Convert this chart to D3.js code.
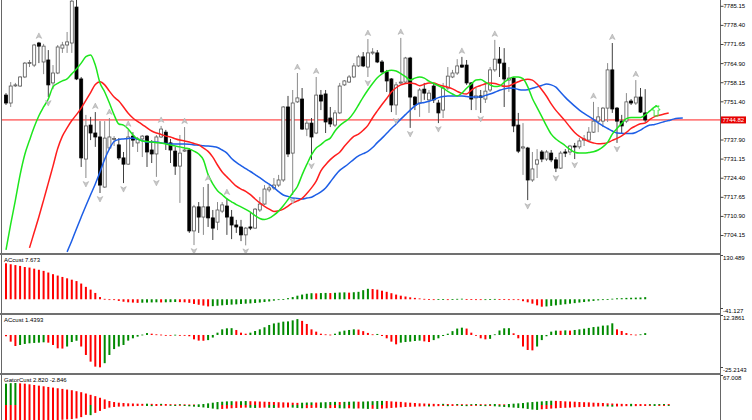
<!DOCTYPE html>
<meta charset="utf-8">
<head>
  <title>Alligator chart</title>
  <script src="https://cdn.jsdelivr.net/npm/d3@7/dist/d3.min.js"></script>
  <style>
    body { margin: 0; background: #fff; }
    svg { display: block; font-family: "Liberation Sans", Arial, sans-serif; }
  </style>
</head>
<body>
<svg width="752" height="420"></svg>
<script>

  // candles, one per bar
  var opens = [7753.6,7750.8,7757.0,7756.8,7760.0,7764.9,7764.2,7772.0,7765.3,7766.0,
    7757.9,7761.4,7770.2,7771.3,7772.0,7784.7,7759.3,7731.0,7743.0,7740.2,
    7738.8,7721.1,7734.9,7737.9,7736.0,7731.4,7729.2,7739.1,7736.7,7738.1,
    7739.1,7734.2,7732.8,7738.8,7740.5,7736.7,7733.8,7728.5,7733.8,7734.2,
    7705.6,7714.1,7710.5,7714.1,7710.2,7708.7,7712.6,7714.4,7710.5,7707.7,
    7707.0,7704.2,7707.0,7706.6,7713.0,7715.1,7720.1,7720.8,7721.8,7723.6,
    7749.4,7733.1,7751.2,7752.2,7741.6,7743.7,7740.2,7753.6,7754.0,7745.5,
    7743.0,7747.3,7757.2,7758.2,7760.0,7763.9,7767.1,7763.5,7768.5,7768.5,
    7765.3,7761.8,7759.3,7750.1,7757.9,7758.2,7766.7,7752.9,7750.8,7755.7,
    7751.9,7756.8,7750.8,7748.3,7756.1,7760.0,7761.4,7764.2,7764.2,7757.9,
    7752.6,7753.3,7752.2,7755.4,7762.5,7766.3,7764.9,7758.9,7759.6,7743.0,
    7734.9,7734.9,7723.6,7729.2,7733.5,7731.0,7733.1,7730.7,7727.8,7733.5,
    7733.5,7735.6,7735.3,7737.7,7737.7,7740.5,7744.4,7744.4,7749.0,7762.5,
    7749.0,7744.4,7744.4,7751.5,7750.8,7752.9,7747.3];
  var highs = [7754.3,7758.2,7757.9,7760.3,7765.3,7766.0,7771.7,7772.4,7771.7,7769.5,
    7764.2,7771.3,7772.4,7775.9,7790.0,7787.2,7760.0,7746.6,7745.9,7747.6,
    7744.4,7744.4,7745.5,7739.1,7738.4,7733.5,7741.3,7740.5,7738.8,7739.5,
    7739.5,7737.7,7739.5,7742.7,7741.3,7738.1,7735.3,7739.5,7742.3,7734.9,
    7714.8,7715.8,7721.1,7722.2,7713.0,7715.8,7715.8,7717.2,7713.0,7709.5,
    7709.5,7707.0,7711.9,7713.7,7717.6,7721.8,7721.8,7724.3,7725.4,7749.7,
    7753.3,7755.4,7761.4,7756.1,7745.1,7745.5,7760.0,7755.4,7755.4,7749.4,
    7748.3,7757.9,7758.9,7760.7,7764.9,7767.8,7768.8,7773.4,7770.2,7769.5,
    7766.0,7762.5,7759.6,7758.2,7773.8,7767.1,7767.1,7753.3,7756.1,7757.9,
    7755.4,7757.9,7751.9,7757.9,7763.5,7762.5,7766.3,7767.1,7766.0,7758.2,
    7756.1,7755.4,7757.9,7763.5,7773.1,7770.6,7770.2,7763.5,7760.0,7747.3,
    7743.7,7735.3,7733.5,7734.5,7734.2,7734.2,7734.2,7731.7,7733.8,7734.5,
    7736.0,7736.7,7738.4,7739.5,7742.3,7751.2,7749.4,7749.4,7764.9,7772.0,
    7749.4,7746.6,7754.3,7752.2,7758.9,7756.1,7755.7];
  var lows = [7750.1,7749.4,7756.5,7756.5,7759.6,7763.5,7763.5,7764.9,7761.0,7752.9,
    7755.7,7761.0,7768.5,7768.5,7768.5,7758.9,7728.2,7724.3,7737.7,7735.3,
    7719.0,7720.8,7734.2,7735.6,7730.7,7722.5,7728.9,7735.3,7733.5,7731.7,
    7728.2,7729.6,7724.7,7738.4,7734.2,7729.6,7725.4,7715.5,7733.5,7704.9,
    7700.6,7704.9,7704.2,7707.0,7702.4,7705.9,7711.9,7704.2,7702.7,7704.9,
    7702.0,7700.5,7705.9,7706.3,7712.3,7714.8,7719.3,7720.1,7721.1,7722.9,
    7731.7,7718.3,7750.8,7741.3,7739.1,7730.7,7739.8,7748.3,7740.2,7742.3,
    7742.3,7746.9,7756.8,7757.9,7759.6,7763.5,7763.5,7760.0,7767.8,7764.9,
    7761.4,7754.7,7747.6,7746.6,7757.5,7757.9,7742.0,7748.3,7745.9,7751.9,
    7747.3,7750.8,7743.7,7745.5,7755.4,7759.6,7760.7,7763.2,7757.2,7748.3,
    7748.3,7747.3,7750.8,7754.7,7761.8,7760.0,7749.4,7754.7,7740.5,7733.1,
    7725.4,7716.5,7722.9,7724.3,7729.9,7730.3,7729.9,7726.4,7727.5,7731.7,
    7732.4,7731.0,7734.5,7735.6,7737.0,7740.2,7740.5,7742.3,7744.1,7747.3,
    7736.7,7740.2,7743.7,7750.1,7750.1,7747.3,7744.1];
  var closes = [7750.8,7756.8,7757.2,7760.0,7764.9,7765.1,7771.3,7770.9,7770.9,7757.2,
    7761.4,7770.6,7771.3,7772.4,7786.8,7759.3,7731.4,7742.7,7740.2,7738.8,
    7721.8,7738.4,7738.8,7738.3,7731.4,7729.2,7738.8,7737.7,7738.1,7739.1,
    7733.5,7732.8,7738.8,7741.6,7736.7,7734.2,7728.5,7733.1,7734.2,7705.6,
    7714.1,7710.5,7714.1,7710.2,7706.6,7713.0,7714.8,7710.5,7707.7,7707.0,
    7704.2,7706.6,7706.6,7713.3,7715.1,7720.4,7720.8,7721.8,7723.6,7749.4,
    7732.8,7750.8,7752.6,7741.6,7743.7,7738.8,7753.6,7751.5,7744.1,7743.4,
    7747.3,7756.8,7758.6,7760.0,7763.9,7767.1,7763.9,7768.5,7768.8,7765.3,
    7761.8,7758.6,7750.1,7757.2,7758.2,7766.7,7752.9,7750.1,7755.4,7754.3,
    7754.3,7751.9,7747.3,7756.1,7760.3,7761.4,7763.9,7763.5,7757.9,7752.2,
    7753.3,7752.8,7755.0,7762.5,7766.3,7764.9,7759.3,7759.6,7742.7,7733.8,
    7735.3,7723.6,7727.5,7730.7,7731.0,7733.5,7730.7,7727.8,7733.1,7733.1,
    7735.6,7735.3,7737.4,7738.1,7740.5,7744.4,7745.9,7749.0,7762.5,7748.7,
    7744.4,7742.7,7751.2,7750.8,7752.9,7747.6,7744.82];

  // alligator lines, already shifted forward (jaw 8, teeth 5, lips 3 bars)
  var jaw = [null,null,null,null,null,null,null,null,null,null,null,null,null,
    7698.2,7702.1,7706.4,7710.5,7714.5,7718.4,7722.2,
    7726.4,7730.9,7734.6,7737.2,7737.9,7738.1,7738.3,7738.4,7738.0,7737.5,
    7737.0,7737.0,7737.0,7736.7,7736.5,7736.3,7736.3,7736.3,7736.3,7736.2,
    7736.0,7735.9,7735.7,7735.6,7735.4,7735.1,7734.2,7733.1,7731.2,7729.8,
    7728.7,7727.6,7726.6,7725.5,7724.4,7723.2,7722.1,7720.9,7719.5,7718.3,
    7717.8,7717.2,7717.1,7716.9,7717.2,7717.5,7718.4,7719.4,7720.8,7722.9,
    7725.1,7727.0,7728.2,7729.5,7730.9,7732.1,7732.9,7733.7,7735.1,7736.8,
    7738.4,7740.1,7741.8,7743.4,7745.1,7746.7,7748.3,7749.8,7750.7,7751.0,
    7751.4,7752.0,7752.7,7753.1,7753.3,7753.3,7753.3,7753.3,7753.1,7752.9,
    7752.9,7752.9,7753.5,7754.0,7754.6,7755.3,7755.8,7756.1,7756.0,7755.6,
    7755.4,7755.5,7756.0,7756.5,7757.0,7757.5,7757.2,7756.4,7754.6,7752.8,
    7751.2,7749.7,7748.3,7747.1,7746.1,7745.0,7743.8,7742.7,7741.8,7740.9,
    7740.2,7740.1,7740.0,7740.0,7740.4,7741.2,7742.3,7743.0,7743.2,7743.7,
    7744.2,7744.6,7745.1,7745.4,7745.5];
  var teeth = [null,null,null,null,null,
    7699.6,7705.1,7710.6,7716.5,7722.5,
    7728.5,7734.7,7739.1,7742.0,7744.6,7746.7,7749.0,7751.7,7754.5,7757.3,
    7758.3,7757.2,7755.0,7752.9,7751.5,7749.4,7747.2,7745.5,7744.3,7743.2,
    7742.0,7740.9,7740.2,7739.7,7739.1,7738.8,7738.2,7737.7,7737.4,7737.0,
    7736.5,7736.0,7734.9,7733.7,7731.7,7728.9,7726.4,7724.7,7723.0,7721.4,
    7720.4,7719.6,7718.4,7716.9,7715.5,7714.3,7713.3,7712.5,7712.7,7713.3,
    7714.4,7715.5,7716.2,7717.1,7718.8,7720.8,7723.2,7726.8,7729.0,7730.8,
    7732.2,7733.4,7735.5,7737.4,7739.0,7739.8,7741.2,7742.9,7745.6,7748.0,
    7750.3,7752.4,7754.7,7756.2,7757.2,7757.7,7757.9,7757.6,7756.9,7757.4,
    7757.9,7757.9,7757.3,7756.8,7756.4,7755.8,7754.9,7754.2,7754.0,7755.3,
    7756.4,7757.0,7757.6,7757.9,7757.7,7757.2,7756.7,7756.8,7757.6,7758.3,
    7758.9,7759.2,7758.9,7757.5,7755.5,7753.2,7750.5,7748.2,7746.3,7744.4,
    7742.3,7740.4,7739.0,7738.0,7737.2,7736.7,7736.4,7736.5,7736.8,7737.6,
    7738.3,7739.2,7740.4,7741.8,7742.7,7743.5,7743.7,7745.0,7746.0,7746.5,
    7746.9,7747.3];
  var lips = [7698.9,7708.0,7716.5,7725.4,7732.6,7737.6,7742.3,7746.3,7749.4,7752.2,
    7756.5,7757.7,7758.6,7759.3,7761.1,7762.8,7764.9,7767.2,7767.8,7764.2,
    7757.9,7754.7,7750.8,7746.6,7743.4,7743.0,7741.6,7739.5,7738.1,7737.4,
    7737.2,7737.0,7736.8,7736.7,7736.3,7736.0,7735.6,7735.3,7734.9,7734.6,
    7733.8,7732.8,7730.7,7725.5,7722.2,7719.8,7718.4,7716.9,7715.9,7714.9,
    7714.1,7713.2,7712.2,7711.0,7710.0,7709.6,7710.1,7711.2,7712.6,7714.5,
    7716.7,7719.0,7721.3,7725.4,7729.1,7732.5,7734.9,7736.1,7737.5,7738.4,
    7740.9,7742.8,7744.1,7745.3,7747.4,7750.1,7752.9,7755.4,7757.7,7759.7,
    7761.1,7762.0,7762.4,7762.1,7761.2,7760.1,7758.9,7759.6,7760.0,7759.6,
    7758.5,7757.7,7756.9,7756.1,7754.9,7754.0,7753.3,7754.3,7756.0,7757.5,
    7758.9,7759.1,7758.2,7757.2,7756.6,7756.8,7758.1,7759.3,7760.0,7760.0,
    7759.4,7756.6,7752.4,7749.2,7746.0,7742.7,7739.8,7738.1,7736.9,7735.7,
    7734.4,7733.4,7733.1,7733.1,7733.3,7733.6,7734.2,7735.3,7736.9,7739.8,
    7741.8,7743.6,7745.3,7745.7,7745.7,7745.7,7746.6,7748.0,7749.4,7749.7];

  var fractalUp = [7, 19, 22, 26, 33, 38, 43, 47, 62, 66, 77, 84, 97, 104, 125, 129, 134];
  var fractalDown = [9, 17, 20, 25, 32, 40, 51, 61, 65, 77, 83, 86, 92, 101, 111, 117, 121, 130];
  var lipsSignal = [138, 7750.1];

  var priceTicks = [7785.15, 7778.40, 7771.65, 7764.90, 7758.15, 7751.40, 7744.65,
    7737.90, 7731.15, 7724.40, 7717.65, 7710.90, 7704.15];
  var lastPrice = 7744.82;

  // sub windows
  var ao = [130.489,127,124,121,117,115,111,107,103,97,
    91,86,81,76,71,66,57,45,35,23,
    8,1.5,-0.5,-3,-6,-9,-11,-12,-13,-12.5,
    -12,-11.5,-11,-11.5,-11,-10.5,-10,-10.5,-11,-13,
    -17,-20,-23,-26,-25,-23.5,-22,-20.5,-19.5,-18.5,
    -17,-16,-15,-13.5,-12,-10,-8,-5,-2,1,
    4,8,13,17,20,22,21.5,22.5,23,22.5,
    23.5,24.5,25,24,25.5,27,33,38,37,35,
    31,27,22,17,13,10,7,5,3,1.5,
    0.5,-0.5,0.3,0.8,-0.5,0.5,1.5,2,1,0.5,
    -0.5,-1,-0.5,0.5,1.2,0.8,0.2,-0.5,-1.5,-3,
    -7,-11,-16,-22,-27,-26,-24,-22,-20,-18,
    -16,-14,-12,-10,-8,-6,-4,-2,0.5,2,
    3.5,4,5,5.5,6,6.5,7.673];
  var ac = [-1,-5.2,-8.6,-7.8,-7,-6.5,-6.2,-6,-5.7,-6,
    -7.8,-10.4,-10.6,-9,-5.5,-4.5,-9,-15.6,-20.8,-24.7,
    -25.2143,-22,-15.6,-11,-9,-7.8,-4.4,-2.6,-1.3,0.3,
    1.5,1,0.5,0.3,0,-0.3,0.2,-0.5,-0.6,-1,
    -3.4,-4.4,-4.5,-4,-2,1.8,4.4,5.2,5.3,3.9,
    1.8,1,1.8,3.1,4.4,6,7.8,9,9.6,10.4,
    10.6,11.4,12.3861,11,8.6,4.4,2.6,1,0.5,0.3,
    1,2.6,3.4,3.9,4.4,4.2,3,1.6,0.5,0.8,
    -0.8,-2.6,-5.2,-7.3,-6,-5.5,-5.2,-4.7,-4.4,-5,
    -5.5,-4,-2.6,-0.8,1,3,5,5.7,5,1.8,
    -0.5,-2.6,-3.4,-3,0.5,3.5,5.2,5.3,1.3,-2.6,
    -9,-11.7,-12,-9,-4,-1,2.6,3.4,3.3,3.6,
    3.4,3.9,4.4,4.9,5.5,6.2,6.5,7.3,7.5,9.1,
    4.4,3.1,1.5,0.5,0.3,0.5,1.4393];
  var gatorUp = [65,66.5,67.008,66,65,63,61,59,57,55,
    53,51,49,47,45,42,39,35,31,27,
    22,17,12,9,7,6,5,4.5,4,3.5,
    4,3.5,3,3.5,3,2.5,2,2.5,2,1.5,
    1.5,2,3,5,7,9,10,11,11.5,11,
    11.5,12,11.5,11,10.5,10,9.5,9,8.5,8,
    7.5,7,6.5,7,7.5,8,7.5,8,8.5,9,
    9.5,9,9.5,10,10.5,10,10.5,11,11.5,12,
    12.5,12,11,10,9.5,8,7,6,5,4.5,
    4,3.5,3,3.5,3,2.5,3,2.5,2,2.5,
    3,2.5,2,2.5,3,2.5,2,3,4,5,
    6,8,9,10,11,12,13,12.5,12,11,
    10.5,10,9,8.5,8,7,6.5,6,5,4.5,
    4,3.5,3,3.5,3,2.8,2.5,2.6,2.7,2.8,
    2.9,2.820];
  var gatorDown = [-75,-73,-71,-68,-65,-62,-59,-56,-53,-50,
    -48,-46,-45,-44,-43,-41,-37,-30,-31,-24,
    -18,-12,-8,-6,-5,-4.5,-4,-3.5,-3,-2.5,
    -3,-3.5,-3,-2.5,-2,-2.5,-3,-2.5,-3,-4,
    -5,-6,-7.5,-9,-11,-13,-12,-11,-10,-9,
    -8.5,-8,-8.5,-9,-8.5,-8,-8.5,-9,-8.5,-8,
    -7.5,-8,-9,-10,-9.5,-9,-8.5,-9,-10,-9.5,
    -9,-10,-10.5,-10,-11,-10.5,-11,-12,-11.5,-12,
    -11,-10,-9,-8,-7,-6,-5.5,-5,-4.5,-4,
    -4.5,-4,-3.5,-3,-3.5,-3,-2.5,-3,-3.5,-3,
    -2.5,-3,-3.5,-3,-4,-5,-6,-7,-8,-9,
    -10,-12,-14,-15,-13,-12,-11,-10,-9,-8.5,
    -8,-7,-6.5,-6,-5.5,-5,-4.5,-4,-4.5,-5,
    -4.5,-4,-3.5,-3.8,-3.5,-3.2,-3,-2.9,-3,-2.9,
    -2.8,-2.846];

  var panelNames = ["ACcust 7.673", "ACcust 1.4393", "GatorCust 2.820 -2.846"];
  var aoRange = [-41.127, 130.489];
  var acRange = [-25.2143, 12.3861];
  var gatorMax = 67.008;

  var RED = "#ff0000", GREEN = "#008a00";

  var svg = d3.select("svg");
  var x = d3.scaleLinear().domain([0, 144]).range([6, 682.8]);
  var y = d3.scaleLinear().domain([7697.8, 7787.2]).range([253, 0]);

  var defs = svg.append("defs");
  defs.append("clipPath").attr("id", "clip-main")
    .append("rect").attr("x", 2).attr("y", 0).attr("width", 718).attr("height", 253);
  defs.append("clipPath").attr("id", "clip-gator")
    .append("rect").attr("x", 2).attr("y", 375).attr("width", 718).attr("height", 45);

  var main = svg.append("g").attr("clip-path", "url(#clip-main)");

  // current price line
  main.append("line")
    .attr("x1", 0).attr("x2", 720)
    .attr("y1", y(lastPrice)).attr("y2", y(lastPrice))
    .attr("stroke", "#ff2020").attr("stroke-width", 1);

  var candles = main.selectAll("g.candle")
    .data(opens)
    .enter()
      .append("g")
      .attr("class", "candle");

  candles.append("line")
    .attr("x1", function(d, i) { return x(i); })
    .attr("x2", function(d, i) { return x(i); })
    .attr("y1", function(d, i) { return y(highs[i]); })
    .attr("y2", function(d, i) { return y(lows[i]); })
    .attr("stroke", function(d, i) { return closes[i] >= d ? "#8a8a8a" : "#404040"; })
    .attr("stroke-width", 1);

  candles.append("rect")
    .attr("x", function(d, i) { return x(i) - 1.5; })
    .attr("width", 3)
    .attr("y", function(d, i) { return y(Math.max(d, closes[i])); })
    .attr("height", function(d, i) { return Math.max(1, Math.abs(y(d) - y(closes[i]))); })
    .attr("fill", function(d, i) { return closes[i] >= d ? "#fff" : "#000"; })
    .attr("stroke", function(d, i) { return closes[i] >= d ? "#555" : "#000"; })
    .attr("stroke-width", 0.8);

  // alligator
  var line = d3.line()
    .defined(function(d) { return d !== null; })
    .x(function(d, i) { return x(i); })
    .y(function(d) { return y(d); })
    .curve(d3.curveMonotoneX);

  [[jaw, "#1d5ee6"], [teeth, "#ff1e1e"], [lips, "#1ee61e"]].forEach(function(s) {
    main.append("path")
      .attr("d", line(s[0]))
      .attr("fill", "none")
      .attr("stroke", s[1])
      .attr("stroke-width", 1.5);
  });

  // fractals
  main.selectAll("path.up")
    .data(fractalUp)
    .enter()
      .append("path")
      .attr("class", "up")
      .attr("transform", function(d) { return "translate(" + x(d) + "," + (y(highs[d]) - 6) + ")"; })
      .attr("d", "M0,-3L2.8,2.5L0,1L-2.8,2.5Z")
      .attr("fill", "#c8c8c8")
      .attr("stroke", "#a4a4a4")
      .attr("stroke-width", 0.5);

  main.selectAll("path.down")
    .data(fractalDown)
    .enter()
      .append("path")
      .attr("class", "down")
      .attr("transform", function(d) { return "translate(" + x(d) + "," + (y(lows[d]) + 6) + ")"; })
      .attr("d", "M0,3L2.8,-2.5L0,-1L-2.8,-2.5Z")
      .attr("fill", "#c8c8c8")
      .attr("stroke", "#a4a4a4")
      .attr("stroke-width", 0.5);

  main.append("path")
    .attr("transform", "translate(" + (x(lipsSignal[0]) + 1.5) + "," + y(lipsSignal[1]) + ")")
    .attr("d", "M0,0L4,5L2,5L2,11L-2,11L-2,5L-4,5Z")
    .attr("fill", "none")
    .attr("stroke", "#3ee63e")
    .attr("stroke-width", 1);

  // histogram windows
  var yAO = d3.scaleLinear().domain(aoRange).range([310.6, 263.3]);
  var yAC = d3.scaleLinear().domain(acRange).range([367.3, 319.1]);
  var yG = d3.scaleLinear().domain([-50, gatorMax]).range([421.4, 383]);

  // colour by rising / falling value (gator: by size)
  function bars(values, scale, firstColor, bySize, clip) {
    var g = svg.append("g");
    if (clip) g.attr("clip-path", clip);
    g.selectAll("rect")
      .data(values)
      .enter()
        .append("rect")
        .attr("x", function(d, i) { return x(i) - 1; })
        .attr("width", 2)
        .attr("y", function(d) { return Math.min(scale(d), scale(0)); })
        .attr("height", function(d) { return Math.max(0.8, Math.abs(scale(d) - scale(0))); })
        .attr("fill", function(d, i) {
          if (i === 0) return firstColor;
          var prev = values[i - 1];
          var up = bySize ? Math.abs(d) > Math.abs(prev) : d > prev;
          return up ? GREEN : RED;
        });
  }

  bars(ao, yAO, RED, false);
  bars(ac, yAC, RED, false);
  bars(gatorUp, yG, GREEN, true, "url(#clip-gator)");
  bars(gatorDown, yG, RED, true, "url(#clip-gator)");

  // frame, separators, axis
  svg.append("line").attr("x1", 1.5).attr("x2", 1.5).attr("y1", 0).attr("y2", 420)
    .attr("stroke", "#666");
  svg.append("line").attr("x1", 720.5).attr("x2", 720.5).attr("y1", 0).attr("y2", 420)
    .attr("stroke", "#666");
  [253, 313, 373].forEach(function(s) {
    svg.append("rect").attr("x", 0).attr("y", s).attr("width", 721).attr("height", 2)
      .attr("fill", "#707070");
  });

  var axis = svg.append("g")
    .attr("transform", "translate(720.5,0)")
    .call(d3.axisRight(y).tickValues(priceTicks).tickSize(3).tickPadding(0)
      .tickFormat(d3.format(".2f")));
  axis.select(".domain").remove();
  axis.selectAll("text").attr("font-size", 6).attr("font-family", "Liberation Sans").attr("fill", "#000");
  axis.selectAll("line").attr("stroke", "#444");

  svg.append("rect")
    .attr("x", 721).attr("y", y(lastPrice) - 3.5)
    .attr("width", 25).attr("height", 7)
    .attr("fill", "#e60000");
  svg.append("text")
    .attr("x", 722.5).attr("y", y(lastPrice))
    .attr("dy", "0.35em")
    .attr("font-size", 6)
    .attr("fill", "#fff")
    .text(d3.format(".2f")(lastPrice));

  var sideLabels = [
    [aoRange[1], 257.5], [aoRange[0], 310.5],
    [acRange[1], 317.5], [acRange[0], 369.5],
    [gatorMax, 377.5]
  ];
  sideLabels.forEach(function(l) {
    svg.append("line").attr("x1", 720.5).attr("x2", 723).attr("y1", l[1] - 2).attr("y2", l[1] - 2)
      .attr("stroke", "#444");
    svg.append("text")
      .attr("x", 723).attr("y", l[1])
      .attr("dy", "0.35em")
      .attr("font-size", 6)
      .attr("fill", "#000")
      .text(l[0]);
  });

  svg.selectAll("text.name")
    .data(panelNames)
    .enter()
      .append("text")
      .attr("class", "name")
      .attr("x", 4)
      .attr("y", function(d, i) { return [262, 322, 381.5][i]; })
      .attr("font-size", 6)
      .attr("fill", "#000")
      .text(function(d) { return d; });

</script>
</body>
</html>
